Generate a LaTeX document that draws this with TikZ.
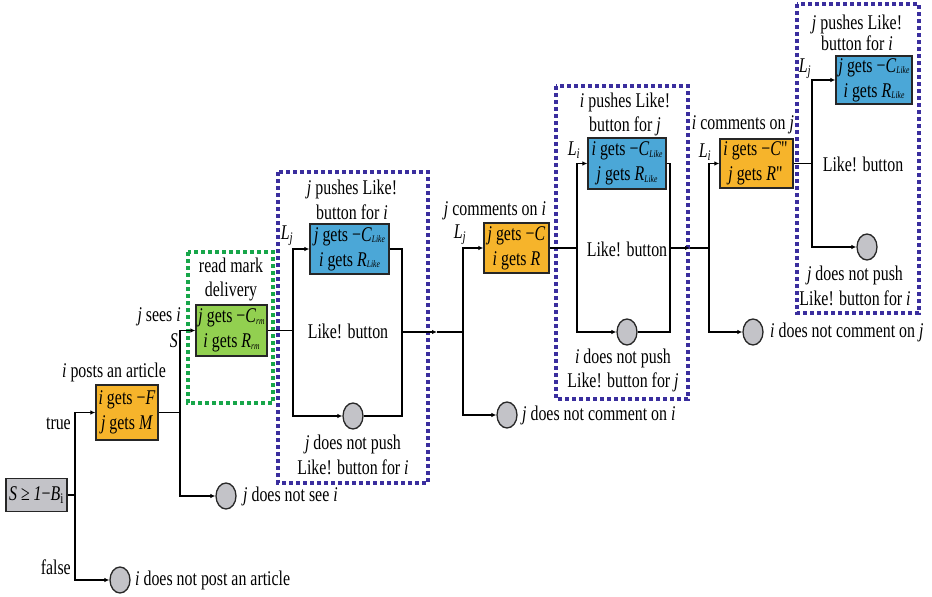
\documentclass[tikz,border=0pt]{standalone}
\usepackage{fontspec}
\setmainfont{Liberation Serif}[FakeStretch=0.76]
\usetikzlibrary{arrows.meta,shapes.geometric}
\definecolor{orangebox}{HTML}{F6B42B}
\definecolor{bluebox}{HTML}{4BA7D7}
\definecolor{greenbox}{HTML}{92D050}
\definecolor{graybox}{HTML}{C3C3C8}
\definecolor{purpledot}{HTML}{3A2E9E}
\definecolor{greendot}{HTML}{17A64A}
\newcommand{\iv}[1]{\textit{#1}}
\newcommand{\sbi}[1]{\textsubscript{\textit{#1}}}
\newcommand{\tsb}[1]{\raisebox{-1.5bp}{\fontsize{10}{10}\selectfont\textit{#1}}}
\begin{document}
\begin{tikzpicture}[x=1bp,y=-1bp,
  font=\fontsize{21}{25}\selectfont,
  box/.style={draw=black!85, line width=1.3bp, inner sep=0pt, align=center},
  leaf/.style={ellipse, draw=black!85, fill=graybox, line width=1.3bp, minimum width=20bp, minimum height=26bp, inner sep=0pt},
  conn/.style={line width=1.4bp, draw=black},
  arr/.style={conn, -{Latex[length=5bp,width=4.5bp]}},
  lbl/.style={inner sep=0pt, align=center},
  purplegrp/.style={draw=purpledot, line width=3.6bp, dash pattern=on 4bp off 3bp},
  greengrp/.style={draw=greendot, line width=3.6bp, dash pattern=on 4bp off 3bp}]
\useasboundingbox (0,0) rectangle (932,597);

% group frames
\draw[greengrp] (188,252) rectangle (273,403);
\draw[purplegrp] (278,172) rectangle (428,483);
\draw[purplegrp] (556,86) rectangle (688,399);
\draw[purplegrp] (797,4) rectangle (919,313);

% boxes
\node[box, fill=graybox, minimum width=61bp, minimum height=33bp] (start) at (36.5,495) {\iv{S} ≥ \iv{1}−\iv{B}\textsubscript{i}};
\node[box, fill=orangebox, minimum width=62bp, minimum height=55bp] (b1) at (127,412.5) {\iv{i} gets −\iv{F}\\\iv{j} gets \iv{M}};
\node[box, fill=greenbox, minimum width=71bp, minimum height=51bp] (g1) at (231.5,330.5) {\iv{j} gets −\iv{C}\tsb{rm}\\\iv{i} gets \iv{R}\tsb{rm}};
\node[box, fill=bluebox, minimum width=79bp, minimum height=50bp] (bl1) at (349.5,249) {\iv{j} gets −\iv{C}\tsb{Like}\\\iv{i} gets \iv{R}\tsb{Like}};
\node[box, fill=orangebox, minimum width=65bp, minimum height=50bp] (o2) at (516.5,248) {\iv{j} gets −\iv{C}\\\iv{i} gets \iv{R}};
\node[box, fill=bluebox, minimum width=78bp, minimum height=51bp] (bl2) at (627,163.5) {\iv{i} gets −\iv{C}\tsb{Like}\\\iv{j} gets \iv{R}\tsb{Like}};
\node[box, fill=orangebox, minimum width=73bp, minimum height=49bp] (o3) at (756.5,163.5) {\iv{i} gets −\iv{C}\textquotedbl\\\iv{j} gets \iv{R}\textquotedbl};
\node[box, fill=bluebox, minimum width=76bp, minimum height=48bp] (bl3) at (874,80) {\iv{j} gets −\iv{C}\tsb{Like}\\\iv{i} gets \iv{R}\tsb{Like}};

% leaves
\node[leaf] (c0) at (120,580) {};
\node[leaf] (c1) at (226,496) {};
\node[leaf] (c2) at (353,416) {};
\node[leaf] (c3) at (507,415) {};
\node[leaf] (c4) at (627,332) {};
\node[leaf] (c5) at (753,332) {};
\node[leaf] (c6) at (867,247) {};

% junction points
\coordinate (j0) at (75,495);
\coordinate (j1) at (180,412.5);
\coordinate (j2) at (293,330.5);
\coordinate (r1) at (402,332);
\coordinate (m1) at (437,332);
\coordinate (j3) at (463,332);
\coordinate (j4) at (577,248);
\coordinate (r2) at (670,248);
\coordinate (m2) at (690,248);
\coordinate (j5) at (709,248);
\coordinate (j6) at (812,163.5);

% connectors
\draw[conn] (start.east) -- (j0);
\draw[arr] (j0) |- (b1.west);
\draw[arr] (j0) |- (c0.west);
\draw[conn] (b1.east) -- (j1);
\draw[arr] (j1) |- (g1.west);
\draw[arr] (j1) |- (c1.west);
\draw[conn] (g1.east) -- (j2);
\draw[arr] (j2) |- (bl1.west);
\draw[arr] (j2) |- (c2.west);
\draw[conn] (bl1.east) -| (r1);
\draw[conn] (c2.east) -| (r1);
\draw[arr] (r1) -- (m1);
\draw[conn] (m1) -- (j3);
\draw[arr] (j3) |- (o2.west);
\draw[arr] (j3) |- (c3.west);
\draw[conn] (o2.east) -- (j4);
\draw[arr] (j4) |- (bl2.west);
\draw[arr] (j4) |- (c4.west);
\draw[conn] (bl2.east) -| (r2);
\draw[conn] (c4.east) -| (r2);
\draw[arr] (r2) -- (m2);
\draw[conn] (m2) -- (j5);
\draw[arr] (j5) |- (o3.west);
\draw[arr] (j5) |- (c5.west);
\draw[conn] (o3.east) -- (j6);
\draw[arr] (j6) |- (bl3.west);
\draw[arr] (j6) |- (c6.west);

% labels
\node[lbl, anchor=east] (ltrue) at (71,424) {true};
\node[lbl, anchor=east] (lfalse) at (71,567) {false};
\node[lbl] (lpost) at (114,372) {\iv{i} posts an article};
\node[lbl, anchor=west] (lnpost) at (135,580) {\iv{i} does not post an article};
\node[lbl, anchor=east] (lsee) at (181,317) {\iv{j} sees \iv{i}};
\node[lbl, anchor=east] (lS) at (178,341) {\iv{S}};
\node[lbl] (lread) at (231,279.5) {read mark\\delivery};
\node[lbl, anchor=west] (lnsee) at (243,496) {\iv{j} does not see \iv{i}};
\node[lbl] (lL1) at (287,236) {\iv{L}\sbi{j}};
\node[lbl] (lpush1) at (352,199.5) {\iv{j} pushes Like!\\button for \iv{i}};
\node[lbl] (lbtn1) at (348,331) {Like! button};
\node[lbl] (lnpush1) at (353,454.5) {\iv{j} does not push\\Like! button for \iv{i}};
\node[lbl] (lcom1) at (495,211) {\iv{j} comments on \iv{i}};
\node[lbl] (lL2) at (460,235) {\iv{L}\sbi{j}};
\node[lbl, anchor=west] (lncom1) at (522,415) {\iv{j} does not comment on \iv{i}};
\node[lbl] (lpush2) at (625,114.5) {\iv{i} pushes Like!\\button for \iv{j}};
\node[lbl] (lL3) at (574,150) {\iv{L}\sbi{i}};
\node[lbl] (lbtn2) at (627,249) {Like! button};
\node[lbl] (lnpush2) at (623,370.5) {\iv{i} does not push\\Like! button for \iv{j}};
\node[lbl] (lcom2) at (743,125) {\iv{i} comments on \iv{j}};
\node[lbl] (lL4) at (705,152) {\iv{L}\sbi{i}};
\node[lbl, anchor=west] (lncom2) at (770,332) {\iv{i} does not comment on \iv{j}};
\node[lbl] (lpush3) at (857,32.5) {\iv{j} pushes Like!\\[-4bp]button for \iv{i}};
\node[lbl] (lL5) at (805,69) {\iv{L}\sbi{j}};
\node[lbl] (lbtn3) at (863,164) {Like! button};
\node[lbl] (lnpush3) at (855,285.5) {\iv{j} does not push\\Like! button for \iv{i}};
\end{tikzpicture}
\end{document}
